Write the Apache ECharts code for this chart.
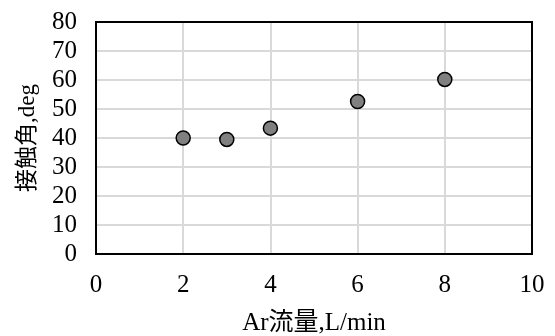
<!DOCTYPE html>
<html>
<head>
<meta charset="utf-8">
<title>接触角</title>
<script src="https://cdn.jsdelivr.net/npm/echarts@6/dist/echarts.min.js"></script>
<style>
  html, body { margin: 0; padding: 0; background: #fff; }
  #chart { width: 555px; height: 336px; }
</style>
</head>
<body>
<div id="chart"></div>
<script>
// Ar流量 (L/min) と接触角 (deg)
var arFlow = [2, 3, 4, 6, 8];
var contactAngle = [40.0, 39.5, 43.4, 52.6, 60.2];

var serif = '"Liberation Serif", "Noto Sans CJK JP", serif';
var chart = echarts.init(document.getElementById('chart'));

var points = arFlow.map(function (x, i) { return [x, contactAngle[i]]; });

chart.setOption({
  animation: false,
  grid: { left: 96, right: 23, top: 22, bottom: 82, containLabel: false, outerBoundsMode: 'none' },
  xAxis: {
    type: 'value', min: 0, max: 10, interval: 2,
    name: 'Ar流量,L/min', nameLocation: 'middle', nameGap: 57,
    nameTextStyle: { fontFamily: serif, fontSize: 25, color: '#000' },
    axisLine: { show: false },
    axisTick: { show: false },
    axisLabel: { fontFamily: serif, fontSize: 25, color: '#000', margin: 19 },
    splitLine: { show: true, lineStyle: { color: '#d9d9d9', width: 2 } }
  },
  yAxis: {
    type: 'value', min: 0, max: 80, interval: 10,
    name: '接触角,deg', nameLocation: 'middle', nameGap: 57, nameRotate: 90,
    nameTextStyle: { fontFamily: serif, fontSize: 23, color: '#000' },
    axisLine: { show: false },
    axisTick: { show: false },
    axisLabel: { fontFamily: serif, fontSize: 25, color: '#000', margin: 19 },
    splitLine: { show: true, lineStyle: { color: '#d9d9d9', width: 2 } }
  },
  series: [{
    type: 'scatter',
    data: points,
    symbol: 'circle',
    symbolSize: 14,
    itemStyle: { color: '#808080', borderColor: '#000', borderWidth: 1.5, opacity: 1 }
  }],
  graphic: [{
    type: 'rect',
    shape: { x: 96, y: 22, width: 436, height: 232 },
    style: { fill: 'none', stroke: '#000', lineWidth: 2 },
    z: 10
  }]
});
</script>
</body>
</html>
